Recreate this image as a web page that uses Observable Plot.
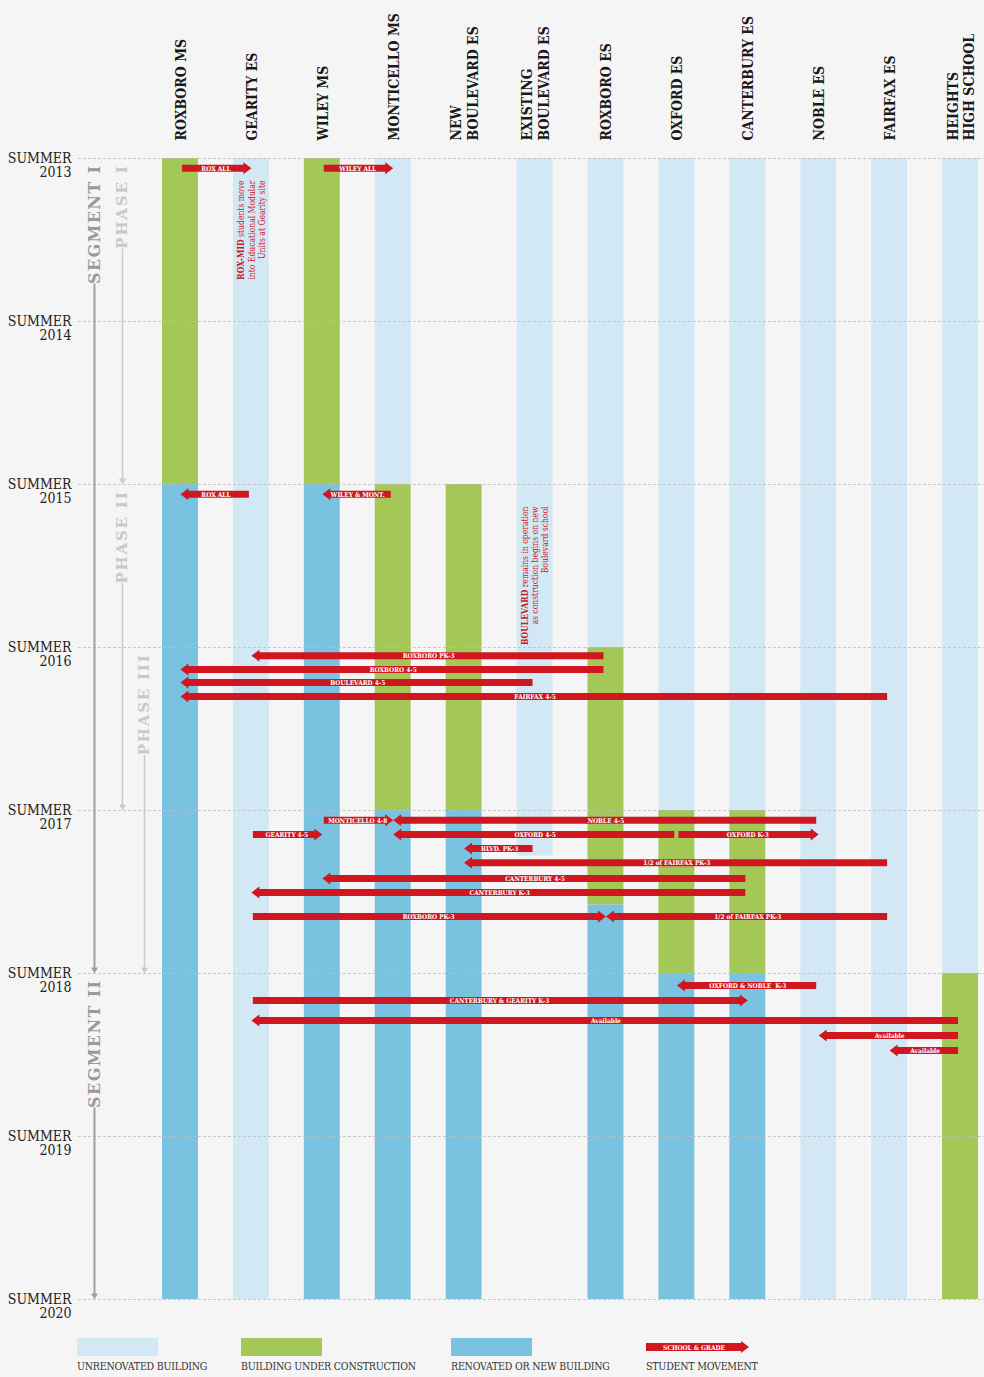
<!DOCTYPE html>
<html><head><meta charset="utf-8">
<script src="https://cdn.jsdelivr.net/npm/d3@7"></script>
<script src="https://cdn.jsdelivr.net/npm/@observablehq/plot@0.6"></script>
<style>
body{margin:0;background:#f5f5f5;}
#wrap{position:relative;width:984px;height:1377px;overflow:hidden;background:#f5f5f5;}
#legend{position:absolute;left:0;top:1322px;width:984px;height:55px;font-family:"DejaVu Serif Condensed","DejaVu Serif",serif;font-stretch:condensed;}
.sw{position:absolute;top:16px;width:81px;height:18px;}
.lab{position:absolute;top:38px;font-size:10.5px;color:#333;white-space:nowrap;letter-spacing:-0.2px;}
</style></head><body><div id="wrap"><div id="chart"></div><div id="legend"></div></div>
<script>
// ---------- data ----------
const schools = ["ROXBORO MS","GEARITY ES","WILEY MS","MONTICELLO MS","NEW BOULEVARD ES","EXISTING BOULEVARD ES","ROXBORO ES","OXFORD ES","CANTERBURY ES","NOBLE ES","FAIRFAX ES","HEIGHTS HIGH SCHOOL"];
const schoolLabels = ["ROXBORO MS","GEARITY ES","WILEY MS","MONTICELLO MS","NEW\nBOULEVARD ES","EXISTING\nBOULEVARD ES","ROXBORO ES","OXFORD ES","CANTERBURY ES","NOBLE ES","FAIRFAX ES","HEIGHTS\nHIGH SCHOOL"];
const years = [2013,2014,2015,2016,2017,2018,2019,2020];

const statusKeys = ["unrenovated","construction","renovated"];
const statusLabels = ["UNRENOVATED BUILDING","BUILDING UNDER CONSTRUCTION","RENOVATED OR NEW BUILDING"];
const statusColors = ["#d3e8f5","#a3c858","#79c3e1"];

// [school, status, from, to]
const periods = [
  ["ROXBORO MS","construction",2013,2015],
  ["ROXBORO MS","renovated",2015,2020],
  ["GEARITY ES","unrenovated",2013,2020],
  ["WILEY MS","construction",2013,2015],
  ["WILEY MS","renovated",2015,2020],
  ["MONTICELLO MS","unrenovated",2013,2015],
  ["MONTICELLO MS","construction",2015,2017],
  ["MONTICELLO MS","renovated",2017,2020],
  ["NEW BOULEVARD ES","construction",2015,2017],
  ["NEW BOULEVARD ES","renovated",2017,2020],
  ["EXISTING BOULEVARD ES","unrenovated",2013,2017.28],
  ["ROXBORO ES","unrenovated",2013,2016],
  ["ROXBORO ES","construction",2016,2017.58],
  ["ROXBORO ES","renovated",2017.58,2020],
  ["OXFORD ES","unrenovated",2013,2017],
  ["OXFORD ES","construction",2017,2018],
  ["OXFORD ES","renovated",2018,2020],
  ["CANTERBURY ES","unrenovated",2013,2017],
  ["CANTERBURY ES","construction",2017,2018],
  ["CANTERBURY ES","renovated",2018,2020],
  ["NOBLE ES","unrenovated",2013,2020],
  ["FAIRFAX ES","unrenovated",2013,2020],
  ["HEIGHTS HIGH SCHOOL","unrenovated",2013,2018],
  ["HEIGHTS HIGH SCHOOL","construction",2018,2020]
];

const moveLabels = ["ROX ALL","WILEY ALL","ROX ALL","WILEY & MONT.","ROXBORO PK-3","ROXBORO 4-5","BOULEVARD 4-5","FAIRFAX 4-5","MONTICELLO 4-8","NOBLE 4-5","GEARITY 4-5","OXFORD 4-5","OXFORD K-3","BLVD. PK-3","1/2 of FAIRFAX PK-3","CANTERBURY 4-5","CANTERBURY K-3","ROXBORO PK-3","1/2 of FAIRFAX PK-3","OXFORD & NOBLE  K-3","CANTERBURY & GEARITY K-3","Available","Available","Available"];
const moveFrom = ["ROXBORO MS","WILEY MS","GEARITY ES","MONTICELLO MS","ROXBORO ES","ROXBORO ES","EXISTING BOULEVARD ES","FAIRFAX ES","WILEY MS","NOBLE ES","GEARITY ES","OXFORD ES","OXFORD ES","EXISTING BOULEVARD ES","FAIRFAX ES","CANTERBURY ES","CANTERBURY ES","GEARITY ES","FAIRFAX ES","NOBLE ES","GEARITY ES","HEIGHTS HIGH SCHOOL","HEIGHTS HIGH SCHOOL","HEIGHTS HIGH SCHOOL"];
const moveTo = ["GEARITY ES","MONTICELLO MS","ROXBORO MS","WILEY MS","GEARITY ES","ROXBORO MS","ROXBORO MS","ROXBORO MS","MONTICELLO MS","MONTICELLO MS","WILEY MS","MONTICELLO MS","NOBLE ES","NEW BOULEVARD ES","NEW BOULEVARD ES","WILEY MS","GEARITY ES","ROXBORO ES","ROXBORO ES","OXFORD ES","CANTERBURY ES","GEARITY ES","NOBLE ES","FAIRFAX ES"];
const moveWhen = [2013.06,2013.06,2015.06,2015.06,2016.05,2016.135,2016.215,2016.30,2017.06,2017.06,2017.147,2017.147,2017.147,2017.233,2017.32,2017.417,2017.503,2017.65,2017.65,2018.074,2018.166,2018.288,2018.38,2018.472];

// [label, from, to, kind]
const phases = [
  ["SEGMENT I",2013,2018,"segment"],
  ["SEGMENT II",2018,2020,"segment"],
  ["PHASE I",2013,2015,"phase"],
  ["PHASE II",2015,2017,"phase"],
  ["PHASE III",2016,2018,"phase"]
];

// [school, year, bold keyword, text]
const notes = [
  ["GEARITY ES",2013,"ROX-MID","ROX-MID students move\ninto Educational Modular\nUnits at Gearity site"],
  ["EXISTING BOULEVARD ES",2015,"BOULEVARD","BOULEVARD remains in operation\nas construction begins on new\nBoulevard school"]
];

// ---------- chart ----------
const W = 984, H = 1322, ML = 78, MR = 0;
const FONT = '"DejaVu Serif Condensed","DejaVu Serif",serif';
const RED = "#d0161e";
const xi = s => schools.indexOf(s);

const X0 = 144.5, X1 = 995.5, N = schools.length;
const step = (X1 - X0) / N;
const pxToX = px => (px - X0) / step - 0.5;

const moves = moveLabels.map((label, i) => ({
  label, from: xi(moveFrom[i]), to: xi(moveTo[i]), y: moveWhen[i]
}));
const right = moves.filter(d => d.to > d.from);
const left = moves.filter(d => d.to < d.from);

// exact text measuring (SVG) for the segment / phase labels
const tmp = d3.select("body").append("svg").attr("width", 10).attr("height", 10)
  .style("position", "absolute").style("left", "-100px").style("top", "0");
const measure = (txt, size, spacing) => {
  const t = tmp.append("text").attr("font-family", "DejaVu Serif, serif").attr("font-weight", "bold")
    .attr("font-size", size).attr("letter-spacing", spacing).text(txt);
  const w = t.node().getComputedTextLength();
  t.remove();
  return w;
};

// lanes for segment / phase annotations
const laneX = [94, 122, 144];
const placed = [];
const phaseObjs = phases.map(([label, a, b, kind]) => {
  let lane = 0;
  if (kind === "phase") {
    lane = 1;
    if (placed.some(p => p.a < b && a < p.b)) lane = 2;
    placed.push({a, b});
  }
  return {label, a, b, kind, lane, x: pxToX(laneX[lane])};
});

const headR = {draw(c){c.moveTo(0,0);c.lineTo(-8,-6);c.lineTo(-8,6);c.closePath();}};
const headL = {draw(c){c.moveTo(0,0);c.lineTo(8,-6);c.lineTo(8,6);c.closePath();}};
const headDown = {draw(c){c.moveTo(0,0);c.lineTo(-3.5,-6);c.lineTo(3.5,-6);c.closePath();}};

const SEG = {size: 16, spacing: 1.4}, PH = {size: 15, spacing: 1.8};
const phaseMarks = phaseObjs.flatMap(p => {
  const seg = p.kind === "segment";
  const f = seg ? SEG : PH;
  const col = seg ? "#a0a0a0" : "#cbcbcb";
  const textLen = measure(p.label, f.size, f.spacing);
  return [
    Plot.ruleX([p], {x: "x", y1: "a", y2: "b", insetTop: 6 + textLen, insetBottom: 4,
      stroke: col, strokeWidth: seg ? 2 : 1.5}),
    Plot.dot([p], {x: "x", y: "b", symbol: headDown, fill: col, stroke: "none"}),
    Plot.text([p], {x: "x", y: "a", text: "label", dy: 6,
      rotate: -90, textAnchor: "end", lineAnchor: "middle",
      fontSize: f.size, fontWeight: "bold", fontFamily: "DejaVu Serif, serif",
      fill: seg ? "#999999" : "#c9c9c9"})
  ];
});

const chart = Plot.plot({
  width: W, height: H, marginLeft: ML, marginRight: MR, marginTop: 158, marginBottom: 23,
  x: {domain: [-0.5, N - 0.5], range: [X0, X1], axis: null},
  y: {domain: [2013, 2020], range: [158, 1299], axis: null},
  color: {domain: statusKeys, range: statusColors},
  style: {background: "transparent", fontFamily: FONT},
  marks: [
    Plot.rect(periods, {x1: d => xi(d[0]) - 0.5, x2: d => xi(d[0]) + 0.5, y1: d => d[2], y2: d => d[3],
      fill: d => d[1], insetLeft: 17.5, insetRight: 17.5}),
    Plot.ruleY(years, {stroke: "#bdbdbd", strokeDasharray: "3,2", strokeWidth: 0.8}),
    Plot.text(years, {y: d => d, text: d => `SUMMER\n${d}`, frameAnchor: "left", dx: -7, dy: -5,
      textAnchor: "end", lineAnchor: "top", lineHeight: 1, fontSize: 14, fill: "#222"}),
    Plot.text(schoolLabels, {x: (d, i) => i, text: d => d, frameAnchor: "top", dy: -18, rotate: -90,
      textAnchor: "start", lineAnchor: "middle", lineHeight: 1.2, fontSize: 14, fontWeight: "bold", fill: "#1a1a1a"}),
    ...phaseMarks,
    Plot.text(notes, {x: d => xi(d[0]), y: d => d[1], text: d => d[3], rotate: -90, dy: 22,
      textAnchor: "end", lineAnchor: "middle", lineHeight: 1.2, fontSize: 8.5, fill: RED}),
    // arrows
    Plot.ruleY(right, {y: "y", x1: "from", x2: "to", insetRight: 7, insetLeft: 2, stroke: RED, strokeWidth: 7}),
    Plot.ruleY(left, {y: "y", x1: "to", x2: "from", insetLeft: 7, insetRight: 2, stroke: RED, strokeWidth: 7}),
    Plot.dot(right, {x: "to", y: "y", symbol: headR, fill: RED, stroke: "none"}),
    Plot.dot(left, {x: "to", y: "y", symbol: headL, fill: RED, stroke: "none"}),
    Plot.text(moves, {x: d => (d.from + d.to) / 2, y: "y", text: "label", fill: "white",
      fontSize: 6.5, fontWeight: "bold", dy: 0.5})
  ]
});
document.getElementById("chart").appendChild(chart);
tmp.remove();

// styling tweaks
const svg = d3.select(chart);
svg.selectAll("text").each(function() {
  const p = phases.find(q => q[0] === this.textContent);
  if (p) d3.select(this).attr("letter-spacing", p[3] === "segment" ? SEG.spacing : PH.spacing);
});
svg.selectAll("tspan").each(function() {
  const t = this.textContent;
  const kw = notes.find(n => t.startsWith(n[2]) && n[3].startsWith(t));
  if (!kw || this.childElementCount) return;
  const node = d3.select(this);
  node.text("");
  node.append("tspan").attr("font-weight", "bold").text(kw[2]);
  node.append("tspan").text(t.slice(kw[2].length));
});

// ---------- legend ----------
const legend = d3.select("#legend");
const swLeft = [77, 241, 451];
statusKeys.forEach((k, i) => {
  legend.append("div").attr("class", "sw").style("left", swLeft[i] + "px").style("background", statusColors[i]);
  legend.append("div").attr("class", "lab").style("left", swLeft[i] + "px").text(statusLabels[i]);
});
const la = legend.append("svg").attr("width", 110).attr("height", 16)
  .style("position", "absolute").style("left", "646px").style("top", "17px");
la.append("rect").attr("x", 0).attr("y", 4).attr("width", 96).attr("height", 8).attr("fill", RED);
la.append("path").attr("d", "M103,8 L95,2 L95,14 Z").attr("fill", RED);
la.append("text").attr("x", 48).attr("y", 10.5).attr("text-anchor", "middle").attr("fill", "white")
  .attr("font-size", 6.5).attr("font-weight", "bold").attr("font-family", FONT).text("SCHOOL & GRADE");
legend.append("div").attr("class", "lab").style("left", "646px").text("STUDENT MOVEMENT");
</script></body></html>
